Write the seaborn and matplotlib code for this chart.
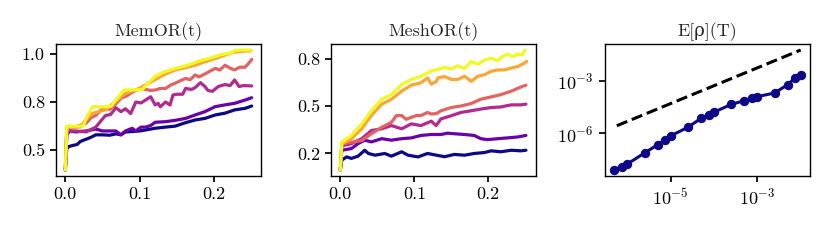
import numpy as np
import pandas as pd
import matplotlib
matplotlib.use("Agg")
import matplotlib.pyplot as plt
import seaborn as sns
from matplotlib.ticker import FormatStrFormatter, LogFormatterSciNotation, NullLocator

# colours for the six runs (plasma 0 .. 1)
run_colors = ["#0d0887", "#6a00a8", "#b12a90", "#e16462", "#fca636", "#f0f921"]

# MemOR(t)
mem_t_blue = [0, 0.002, 0.005, 0.010, 0.016, 0.020, 0.025, 0.030, 0.036, 0.041, 0.050, 0.060, 0.068, 0.075,
              0.081, 0.090, 0.100, 0.108, 0.121, 0.135, 0.148, 0.162, 0.175, 0.188, 0.202, 0.215, 0.228, 0.242, 0.251]
mem_v_blue = [0.398, 0.51, 0.52, 0.525, 0.53, 0.545, 0.553, 0.56, 0.57, 0.58, 0.58, 0.578, 0.585, 0.58,
              0.595, 0.597, 0.60, 0.605, 0.614, 0.62, 0.625, 0.643, 0.657, 0.665, 0.683, 0.692, 0.709, 0.717, 0.729]
mem_t_purple = [0, 0.002, 0.006, 0.014, 0.028, 0.041, 0.050, 0.060, 0.068, 0.075, 0.081, 0.090, 0.095, 0.102,
                0.108, 0.115, 0.121, 0.135, 0.148, 0.162, 0.175, 0.188, 0.202, 0.215, 0.228, 0.242, 0.251]
mem_v_purple = [0.398, 0.58, 0.60, 0.595, 0.60, 0.61, 0.60, 0.60, 0.60, 0.58, 0.60, 0.614, 0.60, 0.62,
                0.62, 0.628, 0.645, 0.648, 0.655, 0.665, 0.683, 0.70, 0.726, 0.735, 0.743, 0.76, 0.772]
mem_t_magenta = [0, 0.002, 0.014, 0.028, 0.041, 0.054, 0.061, 0.068, 0.075, 0.081, 0.088, 0.095, 0.102, 0.108,
                 0.115, 0.121, 0.125, 0.128, 0.135, 0.141, 0.145, 0.150, 0.158, 0.162, 0.170, 0.175, 0.182,
                 0.188, 0.192, 0.198, 0.206, 0.215, 0.222, 0.228, 0.234, 0.240, 0.251]
mem_v_magenta = [0.398, 0.60, 0.60, 0.595, 0.62, 0.68, 0.685, 0.72, 0.70, 0.715, 0.69, 0.75, 0.745, 0.76,
                 0.777, 0.735, 0.743, 0.725, 0.75, 0.734, 0.786, 0.79, 0.79, 0.82, 0.815, 0.825, 0.85,
                 0.83, 0.81, 0.805, 0.83, 0.84, 0.835, 0.864, 0.83, 0.835, 0.833]
mem_t_salmon = [0, 0.002, 0.014, 0.028, 0.035, 0.041, 0.050, 0.060, 0.068, 0.075, 0.082, 0.090, 0.100, 0.108,
                0.115, 0.121, 0.128, 0.135, 0.142, 0.148, 0.155, 0.162, 0.168, 0.175, 0.180, 0.188, 0.195,
                0.202, 0.208, 0.215, 0.222, 0.228, 0.235, 0.242, 0.247, 0.251]
mem_v_salmon = [0.398, 0.62, 0.62, 0.64, 0.67, 0.68, 0.717, 0.712, 0.74, 0.77, 0.78, 0.80, 0.82, 0.815,
                0.81, 0.812, 0.82, 0.82, 0.838, 0.847, 0.86, 0.872, 0.865, 0.89, 0.88, 0.895, 0.91,
                0.924, 0.915, 0.94, 0.925, 0.916, 0.93, 0.93, 0.95, 0.97]
mem_t_orange = [0, 0.002, 0.020, 0.028, 0.036, 0.045, 0.055, 0.062, 0.070, 0.081, 0.095, 0.108, 0.121, 0.135,
                0.148, 0.162, 0.175, 0.188, 0.202, 0.215, 0.228, 0.240, 0.250]
mem_v_orange = [0.398, 0.62, 0.62, 0.66, 0.69, 0.70, 0.71, 0.735, 0.76, 0.795, 0.812, 0.838, 0.866, 0.895,
                0.915, 0.928, 0.94, 0.958, 0.975, 0.993, 1.008, 1.013, 1.015]
mem_t_yellow = [0, 0.002, 0.024, 0.030, 0.037, 0.050, 0.062, 0.070, 0.079, 0.090, 0.104, 0.112, 0.122, 0.133,
                0.145, 0.155, 0.162, 0.172, 0.180, 0.190, 0.198, 0.210, 0.225, 0.228, 0.240, 0.250]
mem_v_yellow = [0.398, 0.625, 0.625, 0.68, 0.726, 0.724, 0.728, 0.77, 0.812, 0.812, 0.815, 0.85, 0.885, 0.905,
                0.92, 0.93, 0.937, 0.95, 0.962, 0.972, 0.98, 0.995, 1.005, 1.017, 1.019, 1.019]

# MeshOR(t)
mesh_t_blue = [0, 0.002, 0.0085, 0.015, 0.024, 0.033, 0.038, 0.047, 0.060, 0.069, 0.083, 0.0915, 0.105, 0.118,
               0.130, 0.141, 0.154, 0.168, 0.181, 0.195, 0.204, 0.217, 0.231, 0.244, 0.251]
mesh_v_blue = [0.163, 0.215, 0.232, 0.224, 0.236, 0.267, 0.25, 0.241, 0.25, 0.236, 0.259, 0.241, 0.232, 0.25,
               0.241, 0.233, 0.245, 0.241, 0.25, 0.255, 0.264, 0.259, 0.267, 0.264, 0.267]
mesh_t_purple = [0, 0.002, 0.015, 0.024, 0.033, 0.042, 0.056, 0.069, 0.083, 0.096, 0.109, 0.123, 0.136, 0.145,
                 0.154, 0.168, 0.181, 0.190, 0.199, 0.213, 0.226, 0.240, 0.251]
mesh_v_purple = [0.163, 0.267, 0.276, 0.302, 0.32, 0.311, 0.328, 0.32, 0.328, 0.332, 0.345, 0.35, 0.35, 0.357,
                 0.354, 0.35, 0.345, 0.328, 0.323, 0.328, 0.332, 0.337, 0.345]
mesh_t_magenta = [0, 0.002, 0.015, 0.029, 0.042, 0.056, 0.069, 0.083, 0.096, 0.109, 0.123, 0.1296, 0.136, 0.150,
                  0.163, 0.177, 0.190, 0.204, 0.217, 0.231, 0.244, 0.251]
mesh_v_magenta = [0.163, 0.29, 0.302, 0.328, 0.371, 0.38, 0.397, 0.38, 0.406, 0.397, 0.42, 0.397, 0.432, 0.449,
                  0.466, 0.475, 0.484, 0.492, 0.495, 0.506, 0.506, 0.51]
mesh_t_salmon = [0, 0.002, 0.015, 0.029, 0.042, 0.056, 0.069, 0.076, 0.083, 0.089, 0.096, 0.103, 0.109, 0.118,
                 0.123, 0.130, 0.136, 0.150, 0.163, 0.177, 0.190, 0.204, 0.217, 0.231, 0.244, 0.251]
mesh_v_salmon = [0.163, 0.30, 0.31, 0.318, 0.354, 0.388, 0.414, 0.45, 0.45, 0.43, 0.44, 0.45, 0.45, 0.466,
                 0.458, 0.46, 0.475, 0.492, 0.50, 0.513, 0.536, 0.548, 0.56, 0.578, 0.60, 0.61]
mesh_t_orange = [0, 0.002, 0.015, 0.029, 0.042, 0.056, 0.069, 0.083, 0.096, 0.109, 0.118, 0.123, 0.130, 0.132,
                 0.141, 0.150, 0.159, 0.168, 0.177, 0.186, 0.195, 0.204, 0.213, 0.222, 0.231, 0.240, 0.249, 0.252]
mesh_v_orange = [0.163, 0.30, 0.328, 0.38, 0.45, 0.51, 0.535, 0.579, 0.61, 0.622, 0.648, 0.615, 0.63, 0.648,
                 0.655, 0.64, 0.64, 0.657, 0.63, 0.657, 0.665, 0.683, 0.69, 0.69, 0.70, 0.708, 0.726, 0.735]
mesh_t_yellow = [0, 0.002, 0.015, 0.029, 0.042, 0.056, 0.069, 0.083, 0.096, 0.109, 0.123, 0.132, 0.141, 0.150,
                 0.159, 0.168, 0.177, 0.186, 0.195, 0.204, 0.213, 0.219, 0.226, 0.233, 0.240, 0.246, 0.250]
mesh_v_yellow = [0.163, 0.31, 0.345, 0.406, 0.475, 0.536, 0.56, 0.613, 0.64, 0.657, 0.685, 0.692, 0.704, 0.695,
                 0.712, 0.697, 0.735, 0.72, 0.742, 0.752, 0.738, 0.76, 0.773, 0.76, 0.773, 0.77, 0.795]

# E[rho](T), log-log
rho_T = [5e-7, 7.5e-7, 1e-6, 2.5e-6, 5e-6, 7.5e-6, 1e-5, 2.5e-5, 5e-5, 7.5e-5, 1e-4,
         2.5e-4, 5e-4, 7.5e-4, 1e-3, 2.5e-3, 5e-3, 7.5e-3, 1e-2]
rho_E = [8.1e-9, 1.26e-8, 1.78e-8, 7.6e-8, 2.24e-7, 4.4e-7, 7.2e-7, 2.2e-6, 7.1e-6, 1.15e-5, 1.6e-5,
         4.5e-5, 7.2e-5, 9.8e-5, 1.23e-4, 2.0e-4, 5.9e-4, 1.48e-3, 2.0e-3]
ref_T = [5.7e-7, 1e-2]
ref_E = [2.7e-6, 5.6e-2]

mem_runs = [(mem_t_blue, mem_v_blue), (mem_t_purple, mem_v_purple), (mem_t_magenta, mem_v_magenta),
            (mem_t_salmon, mem_v_salmon), (mem_t_orange, mem_v_orange), (mem_t_yellow, mem_v_yellow)]
mesh_runs = [(mesh_t_blue, mesh_v_blue), (mesh_t_purple, mesh_v_purple), (mesh_t_magenta, mesh_v_magenta),
             (mesh_t_salmon, mesh_v_salmon), (mesh_t_orange, mesh_v_orange), (mesh_t_yellow, mesh_v_yellow)]

sns.set_theme(style="ticks")
plt.rcParams["font.family"] = ["cmr10", "DejaVu Serif"]
plt.rcParams["mathtext.fontset"] = "cm"
plt.rcParams["axes.formatter.use_mathtext"] = True
plt.rcParams["axes.unicode_minus"] = False
plt.rcParams["axes.edgecolor"] = "black"
plt.rcParams["axes.linewidth"] = 1.0
plt.rcParams["xtick.color"] = "black"
plt.rcParams["ytick.color"] = "black"
plt.rcParams["xtick.major.size"] = 4.5
plt.rcParams["ytick.major.size"] = 4.5

fig = plt.figure(figsize=(8.3, 2.49), dpi=100)
ax1 = fig.add_axes([56 / 830, 73 / 249, 205 / 830, 132 / 249])
ax2 = fig.add_axes([331 / 830, 73 / 249, 205 / 830, 132 / 249])
ax3 = fig.add_axes([605 / 830, 73 / 249, 205 / 830, 132 / 249])

fs = 13

for ax, runs, title, yt in [(ax1, mem_runs, "MemOR(t)", [0.5, 0.75, 1.0]),
                            (ax2, mesh_runs, "MeshOR(t)", [0.25, 0.5, 0.75])]:
    for (t, v), c in zip(runs, run_colors):
        df = pd.DataFrame({"t": t, "v": v})
        sns.lineplot(data=df, x="t", y="v", color=c, lw=2.3, ax=ax, sort=False)
    ax.set_xticks([0.0, 0.1, 0.2])
    ax.set_yticks(yt)
    ax.xaxis.set_major_formatter(FormatStrFormatter("%.1f"))
    ax.yaxis.set_major_formatter(FormatStrFormatter("%.1f"))
    ax.set_title(title, fontsize=fs)
    ax.set_xlabel("")
    ax.set_ylabel("")
    ax.tick_params(labelsize=fs)

# expected value vs T with a slope-one guide
sns.lineplot(x=ref_T, y=ref_E, color="black", lw=2.2, linestyle="--", ax=ax3)
sns.lineplot(x=rho_T, y=rho_E, color=run_colors[0], lw=2.2, marker="o", markersize=6,
             markeredgecolor=run_colors[0], ax=ax3)
ax3.set_xscale("log")
ax3.set_yscale("log")
ax3.set_xticks([1e-5, 1e-3])
ax3.set_yticks([1e-6, 1e-3])
ax3.xaxis.set_major_formatter(LogFormatterSciNotation())
ax3.yaxis.set_major_formatter(LogFormatterSciNotation())
ax3.xaxis.set_minor_locator(NullLocator())
ax3.yaxis.set_minor_locator(NullLocator())
ax3.set_title("E[ρ](T)", fontsize=fs)
ax3.tick_params(labelsize=fs)

fig.savefig("out.png", dpi=100)
